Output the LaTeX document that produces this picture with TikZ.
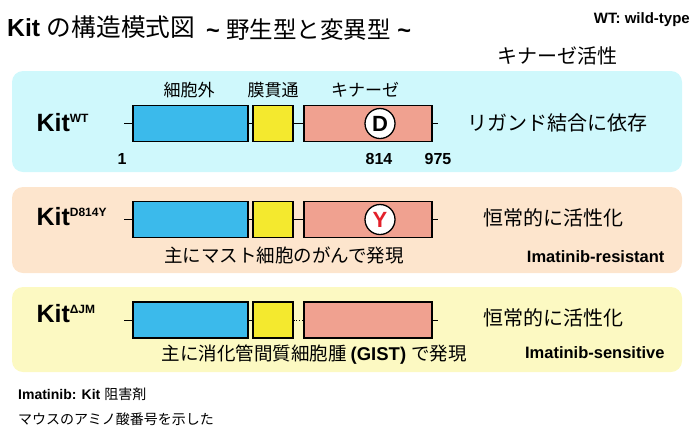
\documentclass[tikz,border=0pt]{standalone}
\usepackage{fontspec}
\setmainfont{Liberation Sans}
\newfontfamily\jp{Noto Sans CJK JP}
\usetikzlibrary{positioning}

\definecolor{wtbg}{HTML}{CFF8FC}
\definecolor{mutbg}{HTML}{FDE5CD}
\definecolor{jmbg}{HTML}{FCF9C2}
\definecolor{ecdcol}{HTML}{3BBAEB}
\definecolor{tmcol}{HTML}{F4E92E}
\definecolor{kincol}{HTML}{F0A190}
\definecolor{mutred}{HTML}{E3202A}

\newcommand{\fsz}[1]{\fontsize{#1}{#1}\selectfont}
\newcommand{\kitsup}[1]{\raisebox{9pt}{\fsz{12}#1}}

\tikzset{
  panel/.style={rounded corners=11pt},
  dom/.style={draw, line width=1.2pt, minimum height=36pt, inner sep=0pt},
  ecd/.style={dom, fill=ecdcol, minimum width=115pt},
  tm/.style={dom, fill=tmcol, minimum width=40pt},
  kin/.style={dom, fill=kincol, minimum width=128pt},
  site/.style={circle, draw, line width=1.3pt, fill=white, minimum size=30pt, inner sep=0pt, font=\fsz{22}\bfseries},
  kitlabel/.style={anchor=west, font=\fsz{25}\bfseries},
  domlabel/.style={font=\fsz{17}\jp},
  actlabel/.style={anchor=west, font=\fsz{20}\jp},
  notelabel/.style={font=\fsz{18.5}\jp},
  drug/.style={anchor=east, font=\fsz{16.5}\bfseries},
  resnum/.style={font=\fsz{16}\bfseries},
  link/.style={line width=0.8pt}
}

\begin{document}
\begin{tikzpicture}[x=1pt, y=-1pt]
\useasboundingbox (0,0) rectangle (696,429);

% Title
\node[anchor=west, inner sep=0] (title) at (7,27) {\fsz{24.7}\bfseries Kit \jp\mdseries の構造模式図};
\node[anchor=west, inner sep=0] (subtitle) at (206,30) {\fsz{23.5}\bfseries \textasciitilde\ \jp\mdseries 野生型と変異型\rmfamily\bfseries\ \textasciitilde};
\node[anchor=east, inner sep=0, font=\fsz{15}\bfseries] (wtnote) at (690,20) {WT: wild-type};
\node[font=\fsz{20}\jp] (acthead) at (557,56) {キナーゼ活性};

% Panels
\fill[panel, wtbg] (12,71) rectangle (682,172);
\fill[panel, mutbg] (12,187) rectangle (682,273);
\fill[panel, jmbg] (12,287) rectangle (682,372);

% Wild type
\node[kitlabel] (kitwt) at (33,123) {Kit\kitsup{WT}};
\coordinate (nwt) at (124,123.5);
\coordinate (cwt) at (438,123.5);
\node[ecd] (ecdwt) at (190.5,123.5) {};
\node[tm] (tmwt) at (273,123.5) {};
\node[kin] (kinwt) at (368,123.5) {};
\node[site] (sitewt) at (380,123.5) {D};
\draw[link] (nwt) -- (ecdwt);
\draw[link] (ecdwt) -- (tmwt);
\draw[link] (tmwt) -- (kinwt);
\draw[link] (kinwt) -- (cwt);
\node[domlabel] (ecdname) at (189,90) {細胞外};
\node[domlabel] (tmname) at (273,90) {膜貫通};
\node[domlabel] (kinname) at (365,90) {キナーゼ};
\node[resnum] (res1) at (122,159) {1};
\node[resnum] (res814) at (379,159) {814};
\node[resnum] (res975) at (438,159) {975};
\node[actlabel] (actwt) at (464,123) {リガンド結合に依存};

% D814Y
\node[kitlabel] (kitdy) at (33,217) {Kit\kitsup{D814Y}};
\coordinate (ndy) at (124,219.5);
\coordinate (cdy) at (438,219.5);
\node[ecd] (ecddy) at (190.5,219.5) {};
\node[tm] (tmdy) at (273,219.5) {};
\node[kin] (kindy) at (368,219.5) {};
\node[site, text=mutred] (sitedy) at (380,219.5) {Y};
\draw[link] (ndy) -- (ecddy);
\draw[link] (ecddy) -- (tmdy);
\draw[link] (tmdy) -- (kindy);
\draw[link] (kindy) -- (cdy);
\node[actlabel] (actdy) at (480,218) {恒常的に活性化};
\node[notelabel] (notedy) at (284,255) {主にマスト細胞のがんで発現};
\node[drug] (drugdy) at (668,257) {Imatinib-resistant};

% Delta JM
\node[kitlabel] (kitjm) at (33,314) {Kit\kitsup{ΔJM}};
\coordinate (njm) at (124,320);
\coordinate (cjm) at (438,320);
\node[ecd] (ecdjm) at (190.5,320) {};
\node[tm] (tmjm) at (273,320) {};
\node[kin] (kinjm) at (368,320) {};
\draw[link] (njm) -- (ecdjm);
\draw[link] (ecdjm) -- (tmjm);
\draw[link, dotted] (tmjm) -- (kinjm);
\draw[link] (kinjm) -- (cjm);
\node[actlabel] (actjm) at (480,318) {恒常的に活性化};
\node[anchor=west] (notejm) at (158,355) {\fsz{18.5}\jp 主に消化管間質細胞腫 \rmfamily\bfseries(GIST) \jp\mdseries で発現};
\node[drug] (drugjm) at (668,353) {Imatinib-sensitive};

% Footnotes
\node[anchor=west, inner sep=0] (foot1) at (18,394) {\fsz{14}\bfseries Imatinib: Kit \jp\mdseries 阻害剤};
\node[anchor=west, inner sep=0] (foot2) at (18,419) {\fsz{14}\jp マウスのアミノ酸番号を示した};
\end{tikzpicture}
\end{document}
